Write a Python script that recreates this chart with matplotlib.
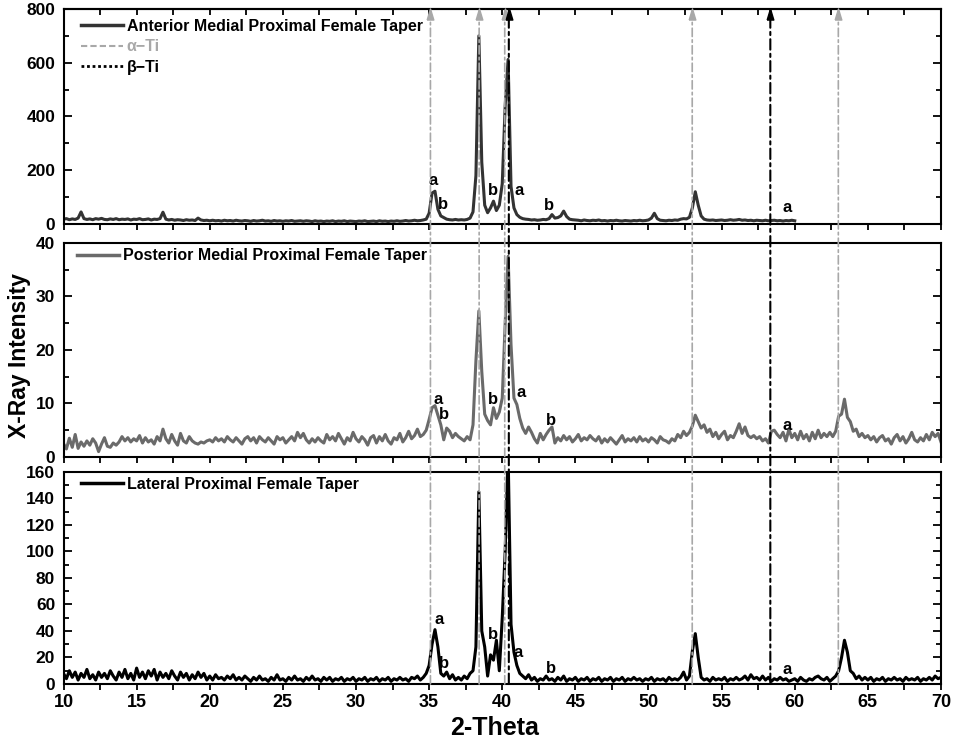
import numpy as np
import matplotlib
matplotlib.use("Agg")
import matplotlib.pyplot as plt
from matplotlib.lines import Line2D
from matplotlib.patches import ConnectionPatch
from matplotlib.ticker import MultipleLocator
from matplotlib.transforms import ScaledTranslation

plt.rcParams['font.family'] = ['Liberation Sans', 'DejaVu Sans']
plt.rcParams['font.weight'] = 'bold'
plt.rcParams['axes.linewidth'] = 1.5

# scan: 2-theta from 10 deg, 0.2 deg step (one row = one degree)
start, step = 10.0, 0.2

anterior = [
    18, 20, 16, 19, 17,  22, 45, 20, 17, 19,  16, 20, 18, 21, 17,  16, 19, 17, 20, 16,
    18, 17, 19, 15, 18,  17, 20, 16, 17, 19,  15, 18, 17, 20, 44,  18, 15, 17, 14, 16,
    15, 13, 16, 14, 15,  13, 22, 15, 13, 14,  12, 14, 12, 13, 11,  14, 12, 13, 11, 14,
    12, 11, 13, 12, 10,  13, 11, 12, 14, 11,  12, 10, 13, 11, 12,  10, 12, 11, 13, 10,
    11, 12, 10, 12, 11,  9, 12, 10, 11, 9,  11, 10, 12, 9, 11,  10, 12, 9, 11, 10,
    9, 11, 10, 12, 9,  10, 11, 9, 12, 10,  11, 9, 11, 10, 12,  10, 11, 13, 11, 12,
    14, 12, 13, 15, 18,  40, 115, 122, 55, 30,  24, 18, 16, 15, 17,  15, 16, 15, 17, 22,
    45, 180, 700, 230, 70,  42, 60, 85, 50, 70,  150, 440, 612, 140, 60,  35, 25, 20, 18, 17,
    15, 16, 14, 15, 17,  16, 20, 35, 22, 24,  30, 48, 28, 18, 16,  15, 14, 12, 15, 13,
    12, 14, 13, 15, 12,  13, 11, 13, 12, 14,  12, 11, 13, 12, 11,  13, 12, 14, 12, 13,
    15, 22, 40, 20, 14,  13, 12, 14, 13, 15,  14, 18, 20, 19, 25,  60, 120, 70, 30, 18,
    15, 14, 15, 13, 14,  15, 13, 14, 16, 14,  15, 17, 14, 15, 13,  14, 12, 14, 13, 12,
    14, 12, 13, 14, 12,  13, 11, 13, 12, 14,
    12,
]

posterior = [
    2.5, 1.5, 3.5, 1.8, 4.2,  1.6, 2.8, 2.0, 3.0, 2.2,  3.4, 2.6, 1.0, 2.4, 3.6,  2.0, 1.8, 2.6, 2.2, 2.8,
    3.8, 3.0, 3.6, 2.8, 3.4,  3.0, 4.0, 2.6, 3.6, 2.8,  3.2, 2.4, 3.8, 3.0, 5.2,  3.4, 2.6, 4.2, 3.0, 2.2,
    4.4, 3.0, 2.6, 3.8, 3.0,  2.6, 2.4, 2.8, 2.6, 3.0,  3.2, 2.8, 3.6, 3.0, 3.4,  2.8, 3.8, 3.2, 2.8, 3.6,
    3.0, 2.4, 3.4, 3.8, 3.0,  3.6, 2.6, 3.8, 3.2, 2.8,  3.6, 3.0, 2.4, 3.8, 3.2,  3.6, 2.6, 3.2, 3.8, 3.0,
    4.6, 3.6, 4.4, 3.2, 2.6,  3.4, 2.8, 3.6, 3.0, 2.6,  4.2, 3.2, 3.8, 3.0, 4.4,  3.4, 2.4, 3.6, 3.0, 4.6,
    3.4, 2.8, 3.8, 3.2, 2.2,  3.6, 4.0, 2.6, 3.8, 3.0,  4.2, 3.0, 2.4, 3.6, 3.2,  4.4, 2.8, 3.6, 4.8, 3.4,
    4.0, 5.2, 3.8, 4.2, 5.0,  7.0, 9.2, 9.6, 7.8, 6.0,  3.2, 5.4, 4.8, 3.6, 4.4,  3.8, 3.4, 3.0, 3.8, 3.2,
    6.0, 18.0, 27.3, 16.0, 8.0,  6.8, 6.0, 9.2, 7.2, 8.4,  11.0, 25.0, 37.5, 21.0, 11.0,  9.8, 7.2, 5.4, 4.4, 5.6,
    4.6, 3.4, 2.6, 4.4, 3.2,  4.2, 5.0, 5.6, 2.6, 3.6,  3.0, 4.0, 3.2, 3.8, 2.8,  3.4, 4.2, 3.0, 3.6, 3.2,
    4.0, 3.4, 3.0, 3.8, 2.6,  3.4, 2.8, 3.6, 3.0, 2.4,  3.2, 4.0, 2.8, 3.4, 3.0,  3.6, 2.8, 3.8, 3.0, 3.4,
    2.8, 3.6, 3.2, 2.6, 3.8,  3.2, 3.0, 2.6, 3.4, 3.0,  4.2, 3.6, 4.8, 4.0, 4.6,  5.8, 7.8, 6.6, 5.4, 6.0,
    4.6, 5.2, 3.8, 4.6, 3.4,  4.2, 4.8, 3.2, 4.0, 3.6,  4.8, 6.2, 4.4, 5.6, 4.0,  3.6, 4.0, 3.4, 3.8, 3.0,
    3.4, 2.6, 4.8, 5.0, 4.2,  3.6, 4.6, 3.0, 5.2, 3.6,  4.4, 3.2, 4.8, 3.4, 4.2,  3.0, 4.6, 3.4, 5.0, 3.6,
    4.4, 3.8, 4.6, 3.8, 4.8,  7.6, 8.0, 10.8, 7.4, 6.6,  4.8, 5.2, 3.8, 4.4, 3.6,  4.0, 3.2, 3.8, 2.8, 3.6,
    4.0, 3.0, 3.4, 2.4, 3.6,  4.2, 3.0, 3.8, 2.6, 3.4,  4.6, 3.2, 2.8, 3.6, 3.0,  4.2, 3.2, 4.6, 3.8, 4.4,
    2.8,
]

lateral = [
    8, 4, 10, 5, 9,  3, 8, 5, 11, 4,  7, 3, 9, 5, 8,  4, 10, 6, 3, 9,
    5, 11, 4, 8, 3,  12, 5, 9, 4, 10,  6, 11, 3, 9, 5,  8, 4, 10, 6, 3,
    9, 5, 8, 3, 7,  4, 9, 5, 8, 3,  6, 3, 7, 4, 5,  3, 6, 4, 7, 3,
    5, 3, 6, 4, 2,  5, 3, 6, 3, 4,  2, 5, 3, 7, 3,  4, 2, 5, 3, 6,
    3, 4, 2, 5, 3,  6, 3, 4, 2, 5,  3, 5, 2, 4, 3,  5, 2, 4, 3, 5,
    2, 4, 3, 5, 2,  4, 3, 5, 2, 4,  3, 5, 2, 4, 3,  5, 3, 4, 2, 5,
    4, 6, 3, 5, 8,  14, 30, 41, 28, 8,  6, 9, 4, 7, 3,  5, 3, 6, 4, 8,
    10, 28, 145, 40, 28,  6, 22, 18, 33, 10,  50, 100, 175, 45, 24,  14, 8, 6, 4, 7,
    3, 5, 2, 4, 3,  6, 3, 4, 2, 5,  3, 6, 2, 4, 3,  5, 2, 4, 3, 5,
    2, 4, 3, 5, 2,  4, 3, 5, 2, 4,  3, 5, 2, 4, 3,  5, 3, 4, 2, 4,
    3, 5, 2, 4, 3,  4, 2, 5, 3, 4,  3, 5, 9, 3, 6,  25, 38, 20, 5, 3,
    4, 2, 5, 3, 4,  3, 5, 2, 4, 3,  5, 3, 4, 6, 3,  7, 4, 5, 3, 6,
    3, 5, 2, 4, 3,  5, 3, 4, 2, 3,  4, 2, 5, 3, 2,  4, 3, 5, 6, 4,
    3, 5, 2, 4, 6,  10, 20, 33, 24, 10,  8, 4, 6, 3, 5,  3, 5, 2, 4, 3,
    5, 2, 4, 3, 5,  3, 4, 2, 5, 3,  4, 3, 5, 2, 4,  3, 5, 3, 6, 4,
    5,
]

names = ['Anterior Medial Proximal Female Taper',
         'Posterior Medial Proximal Female Taper',
         'Lateral Proximal Female Taper']
colors = ['#333333', '#6a6a6a', '#000000']
ylims = [800, 40, 160]
ymajor = [200, 10, 20]

alpha_ti = [35.09, 38.42, 40.17, 52.99, 62.98]
beta_ti = [40.45, 58.33]

peak_labels = [
    [('a', 35.27, 160), ('b', 35.95, 74), ('b', 39.37, 123), ('a', 41.15, 123),
     ('b', 43.2, 70), ('a', 59.47, 60)],
    [('a', 35.6, 10.65), ('b', 36.0, 8.0), ('b', 39.4, 10.65), ('a', 41.3, 12.1),
     ('b', 43.3, 6.9), ('a', 59.5, 5.8)],
    [('a', 35.67, 49), ('b', 36.0, 15.8), ('b', 39.37, 37.7), ('a', 41.1, 24),
     ('b', 43.3, 12), ('a', 59.47, 10.6)],
]

fig = plt.figure(figsize=(9.68, 7.43), dpi=100)
left, width = 0.0656, 0.9065
axes = [fig.add_axes([left, 0.6985, width, 0.2895]),
        fig.add_axes([left, 0.385, width, 0.288]),
        fig.add_axes([left, 0.0794, width, 0.2855])]

for i, (ax, y) in enumerate(zip(axes, [anterior, posterior, lateral])):
    x = start + step * np.arange(len(y))
    ax.plot(x, y, color=colors[i], lw=2.2, label=names[i])
    ax.set_xlim(10, 70)
    ax.set_ylim(0, ylims[i])
    ax.xaxis.set_major_locator(MultipleLocator(5))
    ax.xaxis.set_minor_locator(MultipleLocator(2.5))
    ax.yaxis.set_major_locator(MultipleLocator(ymajor[i]))
    ax.yaxis.set_minor_locator(MultipleLocator(ymajor[i] / 2))
    ax.tick_params(axis='y', which='both', direction='in', left=True, right=True,
                   labelsize=12.5, pad=6, width=1.3)
    ax.tick_params(axis='y', which='major', length=5.5)
    ax.tick_params(axis='y', which='minor', length=3.5)
    ax.tick_params(axis='x', which='both', direction='out', bottom=True, top=False,
                   length=4.5, width=1.3, labelsize=13, pad=3,
                   labelbottom=(i == 2))
    for lab, lx, ly in peak_labels[i]:
        ax.text(lx, ly, lab, fontsize=12, ha='center', va='center')

# inward ticks on the top edge of the first panel
top = axes[0].secondary_xaxis('top')
top.xaxis.set_major_locator(MultipleLocator(5))
top.xaxis.set_minor_locator(MultipleLocator(2.5))
top.tick_params(which='both', direction='in', length=4.5, width=1.3, labeltop=False)

# legends
ax1 = axes[0]
h_main = Line2D([], [], color=colors[0], lw=2.5)
h_alpha = Line2D([], [], color='#a8a8a8', lw=1.5, linestyle=(0, (3, 1.5)))
h_beta = Line2D([], [], color='black', lw=2, linestyle=(0, (1, 1)))
leg = ax1.legend([h_main, h_alpha, h_beta], [names[0], 'α−Ti', 'β−Ti'],
                 loc='upper left', bbox_to_anchor=(0.02, 0.955), frameon=False,
                 fontsize=11.5, handlelength=2.6, handletextpad=0.25,
                 labelspacing=0.35, borderpad=0, borderaxespad=0)
leg.get_texts()[1].set_color('#a8a8a8')

for ax, anchor, c in zip(axes[1:], [(0.0154, 0.975), (0.02, 0.978)], colors[1:]):
    ax.legend([Line2D([], [], color=c, lw=2.5)], [ax.get_lines()[0].get_label()],
              loc='upper left', bbox_to_anchor=anchor, frameon=False, fontsize=11.5,
              handlelength=2.6, handletextpad=0.3, borderpad=0, borderaxespad=0)

# reference lines running through all panels, arrow heads on top
head = [(-0.3, -0.5), (0.3, -0.5), (0.0, 0.5), (-0.3, -0.5)]
shift = ax1.transData + ScaledTranslation(0, -4.0 / 72, fig.dpi_scale_trans)
for pos_list, c, lw in [(alpha_ti, '#a8a8a8', 1.2), (beta_ti, 'black', 1.5)]:
    for xp in pos_list:
        cp = ConnectionPatch(xyA=(xp, 0), coordsA=axes[2].transData,
                             xyB=(xp, ylims[0]), coordsB=ax1.transData,
                             color=c, lw=lw, linestyle=(0, (5, 2, 1.5, 2)))
        fig.add_artist(cp)
        ax1.plot([xp], [ylims[0]], marker=head, ms=8, color=c, mec=c,
                 transform=shift, clip_on=False, zorder=5)

fig.text(0.020, 0.521, 'X-Ray Intensity', rotation=90, fontsize=16.5,
         ha='center', va='center')
fig.text(0.511, 0.020, '2-Theta', fontsize=18, ha='center', va='center')

fig.savefig('out.png', dpi=100)
